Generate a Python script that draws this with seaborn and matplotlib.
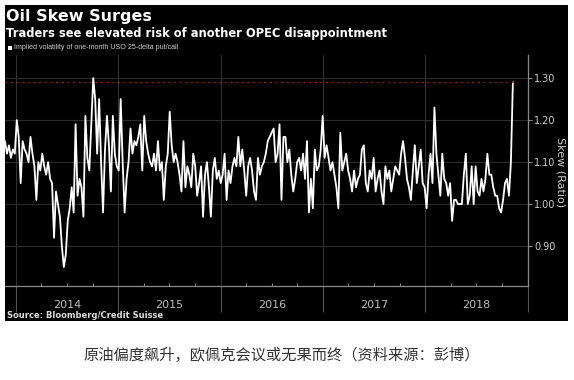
import numpy as np
import pandas as pd
import matplotlib
matplotlib.use("Agg")
import matplotlib.pyplot as plt
import matplotlib.dates as mdates
from matplotlib.patches import Rectangle
import seaborn as sns


# weekly USO 25-delta put/call skew
start_date = "2013-11-22"
skew = [
    1.15, 1.12, 1.14, 1.11, 1.13, 1.12, 1.20, 1.16, 1.05, 1.15,
    1.13, 1.12, 1.10, 1.16, 1.12, 1.09, 1.01, 1.10, 1.08, 1.12,
    1.09, 1.07, 1.10, 1.06, 1.05, 0.92, 1.03, 1.00, 0.97, 0.90,
    0.85, 0.88, 0.96, 0.99, 1.04, 0.98, 1.19, 1.02, 1.06, 1.04,
    0.97, 1.21, 1.11, 1.08, 1.19, 1.30, 1.25, 1.12, 1.25, 1.10,
    0.98, 1.13, 1.21, 1.14, 1.03, 1.21, 1.12, 1.09, 1.08, 1.25,
    1.10, 0.98, 1.06, 1.10, 1.18, 1.12, 1.15, 1.14, 1.16, 1.19,
    1.08, 1.21, 1.15, 1.12, 1.10, 1.09, 1.12, 1.08, 1.15, 1.08,
    1.10, 1.01, 1.09, 1.12, 1.22, 1.14, 1.10, 1.12, 1.10, 1.07,
    1.03, 1.15, 1.04, 1.09, 1.07, 1.04, 1.12, 1.09, 1.02, 1.05,
    1.09, 0.97, 1.07, 1.10, 1.04, 0.97, 1.08, 1.11, 1.06, 1.08,
    1.05, 1.07, 1.12, 1.01, 1.08, 1.05, 1.09, 1.11, 1.09, 1.16,
    1.09, 1.13, 1.08, 1.02, 1.09, 1.11, 1.08, 1.03, 1.01, 1.11,
    1.07, 1.09, 1.10, 1.12, 1.15, 1.16, 1.17, 1.18, 1.10, 1.12,
    1.19, 1.01, 1.16, 1.16, 1.10, 1.13, 1.07, 1.03, 1.06, 1.10,
    1.11, 1.08, 1.12, 1.06, 1.15, 0.98, 1.06, 0.99, 1.13, 1.08,
    1.09, 1.13, 1.21, 1.11, 1.14, 1.11, 1.08, 1.10, 1.07, 1.04,
    0.99, 1.17, 1.08, 1.10, 1.12, 1.08, 1.06, 1.03, 1.08, 1.04,
    1.06, 1.07, 1.13, 1.14, 1.05, 1.03, 1.08, 1.06, 1.11, 1.03,
    1.06, 1.08, 1.03, 1.00, 1.09, 1.06, 1.08, 1.03, 1.06, 1.09,
    1.08, 1.07, 1.12, 1.15, 1.11, 1.06, 1.04, 1.01, 1.08, 1.14,
    1.05, 1.09, 1.13, 1.05, 1.04, 0.99, 1.07, 1.12, 1.05, 1.23,
    1.12, 1.07, 1.02, 1.12, 1.06, 1.05, 1.02, 1.05, 0.96, 1.01,
    1.01, 1.00, 1.00, 1.00, 1.07, 1.12, 1.00, 1.02, 1.09, 1.00,
    1.09, 1.03, 1.02, 1.06, 1.03, 1.06, 1.12, 1.07, 1.07, 1.04,
    1.02, 1.02, 0.99, 0.98, 1.01, 1.05, 1.06, 1.02, 1.10, 1.29,
]
years = [2014, 2015, 2016, 2017, 2018]
y_ticks = [0.90, 1.00, 1.10, 1.20, 1.30]

title = "Oil Skew Surges"
subtitle = "Traders see elevated risk of another OPEC disappointment"
legend_label = "Implied volatility of one-month USO 25-delta put/call"
y_label = "Skew (Ratio)"
source = "Source: Bloomberg/Credit Suisse"
caption = "原油偏度飙升，欧佩克会议或无果而终（资料来源：彭博）"

dates = pd.date_range(start_date, periods=len(skew), freq="7D")
df = pd.DataFrame({"date": dates, "skew": skew})

sns.set_theme(style="white")
plt.rcParams["font.family"] = ["DejaVu Sans"]

W, H = 574, 380
fig = plt.figure(figsize=(W / 100, H / 100), dpi=100)
fig.patch.set_facecolor("white")

# black panel behind the chart
fig.patches.append(Rectangle((5 / W, 1 - 321 / H), 563 / W, 316 / H,
                             transform=fig.transFigure, facecolor="black",
                             edgecolor="none", zorder=-1))

ax = fig.add_axes([5 / W, 1 - 286 / H, 523 / W, 231 / H])
ax.set_facecolor("black")

sns.lineplot(data=df, x="date", y="skew", ax=ax, color="white", linewidth=1.3)

# last value marker line
ax.hlines(skew[-1], dates[0], dates[-1], colors="#9a1e24",
          linestyles=(0, (1.5, 3)), linewidth=0.9)

ax.set_xlim(dates[0], pd.Timestamp("2019-01-02"))
ax.set_ylim(0.805, 1.355)

ax.yaxis.tick_right()
ax.set_yticks(y_ticks)
ax.set_yticklabels([f"{v:.2f}" for v in y_ticks])
ax.tick_params(axis="y", which="major", right=True, length=3, width=0.8,
               color="#888888", labelcolor="#cfcfcf", labelsize=7, pad=1.5)
ax.set_ylabel("")
ax.set_xlabel("")

ax.xaxis.set_major_locator(mdates.YearLocator())
ax.xaxis.set_minor_locator(mdates.MonthLocator(bymonth=[4, 7, 10]))
ax.xaxis.set_major_formatter(plt.NullFormatter())
ax.tick_params(axis="x", which="major", bottom=True, length=19, width=0.8,
               color="#555555", direction="out")
ax.tick_params(axis="x", which="minor", bottom=True, length=2.5, width=0.8,
               color="#888888", direction="in")

for y in years:
    ax.annotate(str(y), xy=(pd.Timestamp(f"{y}-07-02"), 0),
                xycoords=("data", "axes fraction"), xytext=(0, -14),
                textcoords="offset points", ha="center", va="center",
                color="#bdbdbd", fontsize=8)

ax.grid(axis="y", color="#2c2c2c", linewidth=0.8)
ax.grid(axis="x", which="major", color="#333333", linewidth=0.8)

for side in ["left", "top"]:
    ax.spines[side].set_visible(False)
for side in ["right", "bottom"]:
    ax.spines[side].set_color("#8a8a8a")
    ax.spines[side].set_linewidth(0.9)

# axis title on the right
fig.text(561 / W, 1 - 172 / H, y_label, rotation=270, ha="center",
         va="center", color="#cfcfcf", fontsize=8)

# header text
fig.text(6 / W, 1 - 17 / H, title, ha="left", va="center", color="white",
         fontsize=11.5, fontweight="bold")
fig.text(6 / W, 1 - 33 / H, subtitle, ha="left", va="center", color="white",
         fontsize=8.3, fontweight="bold")
fig.patches.append(Rectangle((8 / W, 1 - 50 / H), 4 / W, 4 / H,
                             transform=fig.transFigure, facecolor="white",
                             edgecolor="none"))
fig.text(14 / W, 1 - 47.5 / H, legend_label, ha="left", va="center",
         color="#d0d0d0", fontsize=5.1, family=["Liberation Sans", "DejaVu Sans"])
fig.text(7 / W, 1 - 316 / H, source, ha="left", va="center", color="#dddddd",
         fontsize=6, fontweight="bold")

fig.text(282 / W, 1 - 355 / H, caption, ha="center", va="center",
         color="#333333", fontsize=11,
         family=["Noto Sans CJK SC", "DejaVu Sans"])

fig.savefig("out.png", dpi=100, facecolor=fig.get_facecolor())
